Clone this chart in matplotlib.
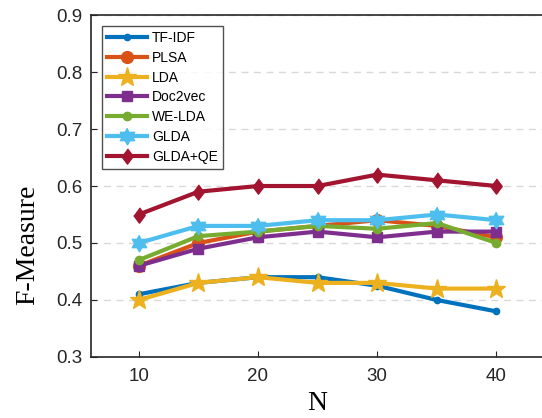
import numpy as np
import matplotlib
matplotlib.use('Agg')
import matplotlib.pyplot as plt

N = [10, 15, 20, 25, 30, 35, 40]

tfidf = [0.41, 0.43, 0.44, 0.44, 0.425, 0.40, 0.38]
plsa = [0.46, 0.50, 0.52, 0.53, 0.54, 0.53, 0.51]
lda = [0.40, 0.43, 0.44, 0.43, 0.43, 0.42, 0.42]
doc2vec = [0.46, 0.49, 0.51, 0.52, 0.51, 0.52, 0.52]
welda = [0.47, 0.512, 0.52, 0.53, 0.525, 0.535, 0.50]
glda = [0.50, 0.53, 0.53, 0.54, 0.54, 0.55, 0.54]
gldaqe = [0.55, 0.59, 0.60, 0.60, 0.62, 0.61, 0.60]

names = ['TF-IDF', 'PLSA', 'LDA', 'Doc2vec', 'WE-LDA', 'GLDA', 'GLDA+QE']
colors = [(0, 0.447, 0.741), (0.85, 0.325, 0.098), (0.929, 0.694, 0.125),
          (0.494, 0.184, 0.556), (0.466, 0.674, 0.188), (0.301, 0.745, 0.933),
          (0.635, 0.078, 0.184)]

# MATLAB-like hexagram and diamond
ang = np.pi / 2 + np.arange(12) * np.pi / 6
rad = np.where(np.arange(12) % 2 == 0, 1.0, 0.577)
hexagram = list(zip(rad * np.cos(ang), rad * np.sin(ang)))
diamond = [(0, 1), (0.75, 0), (0, -1), (-0.75, 0)]

markers = ['o', 'o', '*', 's', 'o', hexagram, diamond]
msizes = [4.5, 8.5, 14, 7.5, 6, 12, 11]

fig = plt.figure(figsize=(5.42, 4.18), dpi=100)
ax = fig.add_axes([0.168, 0.146, 0.836, 0.818])

series = [tfidf, plsa, lda, doc2vec, welda, glda, gldaqe]
for y, name, c, m, ms in zip(series, names, colors, markers, msizes):
    ax.plot(N, y, color=c, marker=m, markersize=ms, linewidth=3, label=name)

ax.set_xlim(6, 44)
ax.set_ylim(0.3, 0.9)
ax.set_xticks([10, 20, 30, 40])
ax.set_yticks(np.arange(0.3, 0.91, 0.1))
ax.set_yticklabels(['0.3', '0.4', '0.5', '0.6', '0.7', '0.8', '0.9'])
ax.tick_params(direction='in', labelsize=13.5, length=4, width=0.8, colors='#262626')
for lab in ax.get_xticklabels() + ax.get_yticklabels():
    lab.set_family('Liberation Sans')
ax.tick_params(axis='x', pad=8)
ax.tick_params(axis='y', pad=6)
ax.yaxis.grid(True, linestyle=(0, (5, 4)), color='#d9d9d9', linewidth=1)
ax.set_axisbelow(True)
for s in ax.spines.values():
    s.set_linewidth(1.2)
    s.set_color('#262626')

ax.set_xlabel('N', fontfamily='Liberation Serif', fontsize=20, labelpad=4)
ax.set_ylabel('F-Measure', fontfamily='Liberation Serif', fontsize=20)
ax.yaxis.set_label_coords(-0.112, 0.327)

leg = ax.legend(loc='upper left', bbox_to_anchor=(102 / 542, 1 - 26 / 418),
                bbox_transform=fig.transFigure, prop={'family': 'Liberation Sans', 'size': 10},
                frameon=True, fancybox=False, edgecolor='#262626', handlelength=2.9,
                borderpad=0.35, labelspacing=0.42, handletextpad=0.36, borderaxespad=0)
leg.get_frame().set_linewidth(1.0)

fig.savefig('out.png', dpi=100)
